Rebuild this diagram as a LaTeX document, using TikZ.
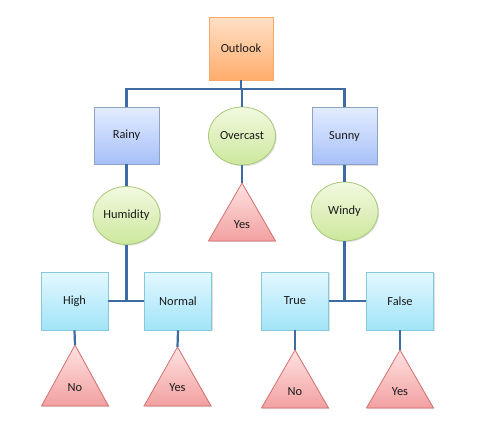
\documentclass[tikz,border=0pt]{standalone}
\usepackage{fontspec}
\setmainfont{Carlito}
\usetikzlibrary{shapes.geometric,shadows}
\definecolor{conncol}{HTML}{3F6BA3}
\definecolor{txtcol}{HTML}{1A1A1A}
\definecolor{orT}{HTML}{FFE0C8}\definecolor{orB}{HTML}{FFAC6A}\definecolor{orD}{HTML}{F8A868}
\definecolor{blT}{HTML}{E3ECFF}\definecolor{blB}{HTML}{A6C0F8}\definecolor{blD}{HTML}{8FA3C5}
\definecolor{cyT}{HTML}{E3F8FF}\definecolor{cyB}{HTML}{A2E4F8}\definecolor{cyD}{HTML}{86C9DD}
\definecolor{grT}{HTML}{F2F9E0}\definecolor{grB}{HTML}{CCE89C}\definecolor{grD}{HTML}{A9C87A}
\definecolor{rdT}{HTML}{FFE2E2}\definecolor{rdB}{HTML}{F2A0A0}\definecolor{rdD}{HTML}{D47070}
\tikzset{
  every node/.style={font=\fontsize{12.4}{14}\selectfont, text=txtcol},
  shad/.style={drop shadow={opacity=0.25, shadow xshift=1.2pt, shadow yshift=-1.2pt}},
  rootbox/.style={rectangle, draw=orD, line width=0.8pt, top color=orT, bottom color=orB, minimum width=64pt, minimum height=63pt, shad},
  bluebox/.style={rectangle, draw=blD, line width=0.8pt, top color=blT, bottom color=blB, minimum width=65pt, minimum height=57pt, shad},
  cyanbox/.style={rectangle, draw=cyD, line width=0.8pt, top color=cyT, bottom color=cyB, minimum width=67pt, minimum height=58pt, shad},
  greenell/.style={ellipse, draw=grD, line width=0.8pt, top color=grT, bottom color=grB, minimum width=67pt, minimum height=58pt, inner sep=0pt, shad},
  leaf/.style={draw=rdD, line width=0.8pt, top color=rdT, bottom color=rdB, shad},
  conn/.style={draw=conncol, line width=2.2pt},
}
\newcommand{\leaftri}[4]{% name, apex x, apex y, base y
  \coordinate (#1) at (#2,#3);
  \path[leaf] (#2,#3) -- (#2+33.5,#4) -- (#2-33.5,#4) -- cycle;
}
\begin{document}
\begin{tikzpicture}[x=1pt,y=-1pt]
\useasboundingbox (0,0) rectangle (483,439);
% nodes
\node[rootbox] (outlook) at (241,48.5) {Outlook};
\node[bluebox] (rainy) at (126.5,135.5) {Rainy};
\node[greenell] (overcast) at (242,136) {Overcast};
\node[bluebox] (sunny) at (344.5,136) {Sunny};
\node[greenell] (humidity) at (126.5,215.5) {Humidity};
\node[greenell, minimum height=59pt] (windy) at (344.5,211.5) {Windy};
\node[cyanbox] (high) at (74.5,301) {High};
\node[cyanbox] (normal) at (178,301) {Normal};
\node[cyanbox] (true) at (295,301) {True};
\node[cyanbox] (false) at (400,301) {False};
% leaves
\leaftri{yesA}{242}{183}{241}
\node (yesAt) at (242,225) {Yes};
\leaftri{noA}{75}{345}{406}
\node (noAt) at (75,388) {No};
\leaftri{yesB}{177.5}{347}{406}
\node (yesBt) at (177.5,388) {Yes};
\leaftri{noB}{295}{350}{408}
\node (noBt) at (295,392) {No};
\leaftri{yesC}{400}{350}{408}
\node (yesCt) at (400,392) {Yes};
% connectors
\coordinate (bar) at (0,89);
\draw[conn] (outlook.south) -- (outlook.south |- bar);
\draw[conn] (rainy.north) |- (sunny.north |- bar) -- (sunny.north);
\draw[conn] (overcast.north) -- (overcast.north |- bar);
\draw[conn] (overcast.south) -- (yesA);
\draw[conn] (rainy.south) -- (humidity.north);
\draw[conn] (humidity.south) -- (humidity.south |- high.east);
\draw[conn] (high.east) -- (normal.west);
\draw[conn] (sunny.south) -- (windy.north);
\draw[conn] (windy.south) -- (windy.south |- true.east);
\draw[conn] (true.east) -- (false.west);
\draw[conn] (high.south) -- (noA);
\draw[conn] (normal.south) -- (yesB);
\draw[conn] (true.south) -- (noB);
\draw[conn] (false.south) -- (yesC);
\end{tikzpicture}
\end{document}
